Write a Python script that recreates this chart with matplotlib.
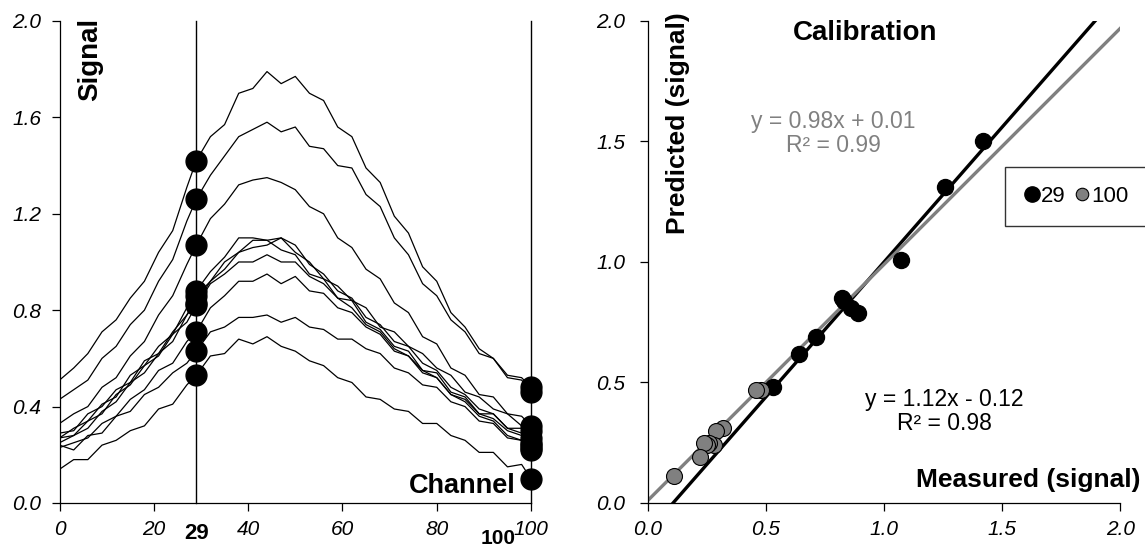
import matplotlib
matplotlib.use('Agg')
import matplotlib.pyplot as plt
import numpy as np
from matplotlib.lines import Line2D

plt.rcParams['font.family'] = ['Liberation Sans', 'DejaVu Sans']

# channel grid the spectra were read on
channels = [0, 3, 6, 9, 12, 15, 18, 21, 24, 27, 29, 32, 35, 38, 41, 44, 47, 50,
            53, 56, 59, 62, 65, 68, 71, 74, 77, 80, 83, 86, 89, 92, 95, 98, 100]

spec_a = [0.51, 0.56, 0.62, 0.71, 0.76, 0.85, 0.92, 1.04, 1.13, 1.31, 1.42, 1.52,
          1.57, 1.70, 1.72, 1.79, 1.74, 1.77, 1.70, 1.67, 1.56, 1.52, 1.39, 1.33,
          1.19, 1.12, 0.98, 0.92, 0.79, 0.73, 0.64, 0.60, 0.53, 0.52, 0.48]
spec_b = [0.43, 0.47, 0.51, 0.60, 0.65, 0.74, 0.80, 0.92, 1.01, 1.17, 1.26, 1.36,
          1.44, 1.52, 1.55, 1.58, 1.54, 1.56, 1.48, 1.47, 1.40, 1.39, 1.28, 1.23,
          1.10, 1.03, 0.91, 0.86, 0.76, 0.71, 0.62, 0.60, 0.52, 0.51, 0.46]
spec_c = [0.33, 0.37, 0.40, 0.48, 0.52, 0.61, 0.67, 0.78, 0.86, 0.99, 1.07, 1.18,
          1.24, 1.32, 1.34, 1.35, 1.33, 1.30, 1.23, 1.20, 1.10, 1.06, 0.97, 0.93,
          0.83, 0.79, 0.69, 0.66, 0.56, 0.53, 0.45, 0.44, 0.37, 0.36, 0.32]
spec_d = [0.27, 0.31, 0.34, 0.41, 0.44, 0.53, 0.57, 0.65, 0.70, 0.81, 0.88, 0.96,
          1.02, 1.10, 1.10, 1.09, 1.05, 1.03, 0.95, 0.93, 0.85, 0.84, 0.75, 0.72,
          0.65, 0.63, 0.55, 0.54, 0.46, 0.44, 0.37, 0.37, 0.31, 0.31, 0.27]
spec_e = [0.29, 0.30, 0.37, 0.40, 0.47, 0.50, 0.59, 0.62, 0.71, 0.78, 0.86, 0.92,
          1.00, 1.04, 1.09, 1.09, 1.10, 1.04, 1.00, 0.93, 0.90, 0.84, 0.81, 0.73,
          0.71, 0.65, 0.62, 0.56, 0.53, 0.46, 0.44, 0.39, 0.37, 0.32, 0.30]
spec_f = [0.25, 0.28, 0.31, 0.38, 0.42, 0.50, 0.54, 0.62, 0.67, 0.78, 0.83, 0.92,
          0.97, 1.04, 1.06, 1.07, 1.10, 1.07, 0.99, 0.95, 0.88, 0.85, 0.77, 0.74,
          0.67, 0.65, 0.58, 0.55, 0.48, 0.45, 0.39, 0.37, 0.31, 0.29, 0.25]
spec_g = [0.27, 0.28, 0.34, 0.37, 0.45, 0.49, 0.57, 0.61, 0.70, 0.75, 0.82, 0.91,
          0.95, 1.00, 1.00, 1.03, 1.00, 1.00, 0.94, 0.91, 0.85, 0.81, 0.74, 0.71,
          0.64, 0.61, 0.54, 0.52, 0.45, 0.43, 0.37, 0.35, 0.30, 0.28, 0.24]
spec_h = [0.23, 0.25, 0.27, 0.33, 0.36, 0.43, 0.47, 0.55, 0.58, 0.67, 0.71, 0.81,
          0.86, 0.92, 0.92, 0.95, 0.91, 0.94, 0.88, 0.87, 0.81, 0.79, 0.73, 0.70,
          0.63, 0.61, 0.55, 0.52, 0.45, 0.42, 0.36, 0.34, 0.28, 0.26, 0.23]
spec_i = [0.24, 0.22, 0.28, 0.29, 0.36, 0.38, 0.45, 0.48, 0.54, 0.58, 0.63, 0.71,
          0.73, 0.77, 0.77, 0.78, 0.75, 0.77, 0.73, 0.72, 0.68, 0.68, 0.64, 0.62,
          0.56, 0.54, 0.49, 0.48, 0.42, 0.40, 0.34, 0.33, 0.27, 0.26, 0.22]
spec_j = [0.14, 0.18, 0.18, 0.24, 0.26, 0.30, 0.32, 0.39, 0.41, 0.49, 0.53, 0.61,
          0.62, 0.68, 0.66, 0.69, 0.65, 0.63, 0.59, 0.57, 0.52, 0.50, 0.44, 0.43,
          0.39, 0.38, 0.33, 0.33, 0.28, 0.26, 0.21, 0.21, 0.15, 0.16, 0.10]
spectra = [spec_a, spec_b, spec_c, spec_d, spec_e, spec_f, spec_g, spec_h, spec_i, spec_j]

# calibration points (measured vs predicted) for the two channels
measured_29 = [1.42, 1.26, 1.07, 0.89, 0.86, 0.83, 0.82, 0.71, 0.64, 0.53]
predicted_29 = [1.50, 1.31, 1.01, 0.79, 0.81, 0.84, 0.85, 0.69, 0.62, 0.48]
measured_100 = [0.48, 0.46, 0.32, 0.29, 0.28, 0.26, 0.25, 0.24, 0.22, 0.11]
predicted_100 = [0.47, 0.47, 0.31, 0.30, 0.24, 0.25, 0.24, 0.25, 0.19, 0.11]
fit_29 = (1.12, -0.12)
fit_100 = (0.98, 0.01)

GRAY = '#808080'
TICK_FS = 15

fig = plt.figure(figsize=(11.45, 5.49), dpi=100)
ax1 = fig.add_axes([0.052, 0.0838, 0.4118, 0.878])
ax2 = fig.add_axes([0.5657, 0.0838, 0.4128, 0.878])

for ax in (ax1, ax2):
    ax.spines['top'].set_visible(False)
    ax.spines['right'].set_visible(False)
    ax.spines['left'].set_linewidth(0.9)
    ax.spines['bottom'].set_linewidth(0.9)
    ax.tick_params(direction='out', length=6, width=0.9)

# ---- left: spectra ----
i29 = channels.index(29)
i100 = channels.index(100)
for s in spectra:
    ax1.plot(channels, s, color='black', lw=0.9)
ax1.axvline(29, color='black', lw=1.0, clip_on=False)
ax1.axvline(100, color='black', lw=1.0, clip_on=False)
ax1.plot([29] * len(spectra), [s[i29] for s in spectra], 'o', color='black',
         ms=15, clip_on=False, zorder=4)
ax1.plot([100] * len(spectra), [s[i100] for s in spectra], 'o', color='black',
         ms=15, clip_on=False, zorder=4)

ax1.set_xlim(0, 100)
ax1.set_ylim(0, 2.0)
ax1.set_xticks([0, 20, 40, 60, 80, 100])
ax1.set_yticks([0, 0.4, 0.8, 1.2, 1.6, 2.0])
ax1.set_yticklabels(['0.0', '0.4', '0.8', '1.2', '1.6', '2.0'],
                    fontstyle='italic', fontsize=TICK_FS)
ax1.set_xticklabels(['0', '20', '40', '60', '80', '100'],
                    fontstyle='italic', fontsize=TICK_FS)
ax1.tick_params(axis='x', pad=6)
ax1.tick_params(axis='y', pad=7)

ax1.text(6.4, 1.84, 'Signal', rotation=90, fontsize=20, fontweight='bold',
         ha='center', va='center')
ax1.text(96.8, 0.07, 'Channel', fontsize=19.5, fontweight='bold',
         ha='right', va='center')
ax1.text(29, -0.063, '29', transform=ax1.get_xaxis_transform(), fontsize=16,
         fontweight='bold', ha='center', va='center')
ax1.text(93, -0.073, '100', transform=ax1.get_xaxis_transform(), fontsize=15,
         fontweight='bold', ha='center', va='center')

# ---- right: calibration ----
xl = np.array([0.0, 2.0])
ax2.plot(xl, fit_29[0] * xl + fit_29[1], color='black', lw=2.4, zorder=2)
ax2.plot(xl, fit_100[0] * xl + fit_100[1], color=GRAY, lw=2.4, zorder=2)
ax2.plot(measured_29, predicted_29, 'o', color='black', ms=11.5, zorder=3)
ax2.plot(measured_100, predicted_100, 'o', color=GRAY, mec='black', mew=0.8,
         ms=11.5, zorder=4)

ax2.set_xlim(0, 2.0)
ax2.set_ylim(0, 2.0)
ticks = [0, 0.5, 1.0, 1.5, 2.0]
ax2.set_xticks(ticks)
ax2.set_yticks(ticks)
ax2.set_xticklabels(['%.1f' % t for t in ticks], fontstyle='italic', fontsize=TICK_FS)
ax2.set_yticklabels(['%.1f' % t for t in ticks], fontstyle='italic', fontsize=TICK_FS)
ax2.tick_params(axis='x', pad=6)
ax2.tick_params(axis='y', pad=10)

ax2.text(0.918, 1.949, 'Calibration', fontsize=20, fontweight='bold',
         ha='center', va='center')
ax2.text(0.128, 1.577, 'Predicted (signal)', rotation=90, fontsize=19,
         fontweight='bold', ha='center', va='center')
ax2.text(2.084, 0.096, 'Measured (signal)', fontsize=19, fontweight='bold',
         ha='right', va='center', clip_on=False)
ax2.text(0.785, 1.532, 'y = 0.98x + 0.01\nR\u00b2 = 0.99', color=GRAY,
         fontsize=16.5, ha='center', va='center', multialignment='center',
         linespacing=1.05)
ax2.text(1.254, 0.38, 'y = 1.12x - 0.12\nR\u00b2 = 0.98', color='black',
         fontsize=16.5, ha='center', va='center', multialignment='center',
         linespacing=1.05)

handles = [
    Line2D([], [], ls='none', marker='o', color='black', ms=11),
    Line2D([], [], ls='none', marker='o', color=GRAY, mec='black', mew=0.8, ms=9),
]
leg = fig.legend(handles, ['29', '100'], loc='center', ncol=2,
                 bbox_to_anchor=(0.9397, 0.642), fontsize=16, frameon=True,
                 fancybox=False, borderpad=0.85, handlelength=0.7,
                 handletextpad=0.05, columnspacing=0.4)
leg.get_frame().set_edgecolor('black')
leg.get_frame().set_linewidth(1.0)

fig.savefig('out.png', dpi=100)
